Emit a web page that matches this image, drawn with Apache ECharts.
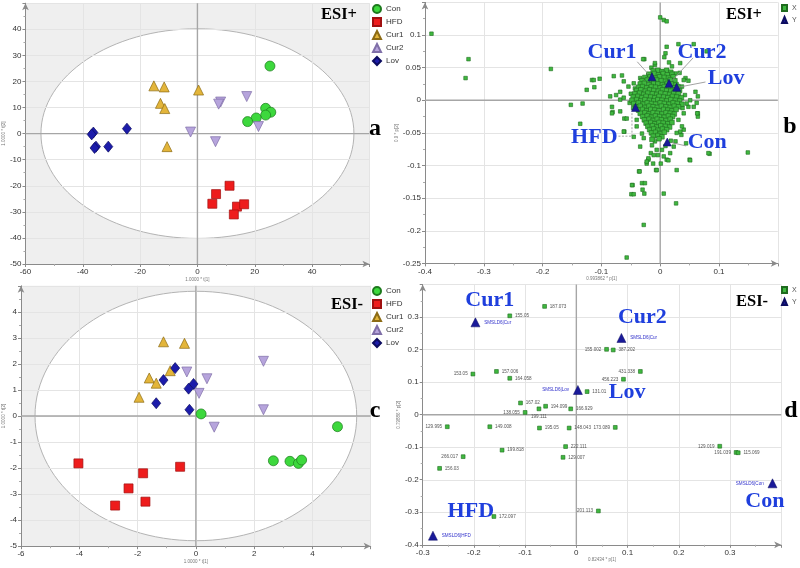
<!DOCTYPE html>
<html><head><meta charset="utf-8">
<script src="https://cdn.jsdelivr.net/npm/echarts@6/dist/echarts.min.js"></script>
<style>html,body{margin:0;padding:0;background:#fff}#c{width:800px;height:568px}</style>
</head><body><div id="c"></div><script>
// ---------- Panel a (ESI+ scores) ----------
const aCon  = [[25.3,25.9],[23.8,9.7],[25.6,8.2],[23.8,7.1],[20.5,6.0],[17.5,4.6]];
const aHFD  = [[11.2,-20.0],[6.5,-23.2],[5.2,-26.9],[13.8,-28.0],[16.3,-27.1],[12.7,-31.0]];
const aCur1 = [[-15.2,18.3],[-11.6,17.9],[0.4,16.7],[-12.9,11.6],[-11.4,9.6],[-10.6,-5.0]];
const aCur2 = [[17.2,14.2],[8.1,12.1],[7.4,11.3],[21.3,2.7],[-2.4,0.6],[6.3,-3.1]];
const aLov  = [[-36.3,0.4],[-36.9,-0.3],[-24.6,1.9],[-35.4,-5.0],[-35.9,-5.5],[-31.1,-5.0]];
const aEllipse = [54.6, 40.2];
// ---------- Panel c (ESI- scores) ----------
const cCon  = [[0.18,0.08],[4.86,-0.41],[2.66,-1.72],[3.23,-1.74],[3.52,-1.82],[3.63,-1.69]];
const cHFD  = [[-4.03,-1.82],[-0.54,-1.95],[-1.81,-2.20],[-2.31,-2.78],[-2.77,-3.44],[-1.73,-3.29]];
const cCur1 = [[-1.11,2.85],[-0.39,2.79],[-0.88,1.74],[-1.60,1.46],[-1.36,1.26],[-1.95,0.72]];
const cCur2 = [[2.32,2.10],[-0.31,1.69],[0.38,1.43],[0.11,0.87],[2.32,0.24],[0.63,-0.43]];
const cLov  = [[-0.71,1.84],[-1.11,1.38],[-0.08,1.23],[-0.25,1.05],[-1.36,0.49],[-0.22,0.24]];
const cEllipse = [5.52, 4.79];
// ---------- Panel b (ESI+ loadings) ----------
const bXOuter = [[-0.389,0.102],[-0.326,0.063],[-0.331,0.034],[-0.186,0.048],[-0.152,-0.007],[-0.132,-0.005],[-0.136,-0.036],[-0.125,0.016],[-0.116,0.031],[-0.103,0.033],[-0.112,0.020],[-0.082,-0.010],[-0.081,-0.018],[-0.079,0.037],[-0.065,0.038],[-0.075,0.008],[-0.068,0.001],[-0.061,-0.028],[-0.061,-0.048],[-0.045,-0.056],[-0.034,-0.071],[-0.036,-0.109],[-0.047,-0.130],[-0.049,-0.144],[-0.045,-0.144],[-0.031,-0.127],[-0.026,-0.127],[-0.030,-0.137],[-0.027,-0.143],[-0.028,-0.191],[-0.057,-0.241],[0.006,-0.143],[0.027,-0.158],[0.000,0.127],[0.006,0.123],[0.011,0.121],[0.011,0.082],[-0.027,0.063],[-0.009,0.054],[0.009,0.072],[0.031,0.086],[0.057,0.086],[0.079,0.075],[0.043,0.034],[0.048,0.030],[0.064,0.006],[0.064,-0.020],[0.064,-0.025],[0.057,-0.010],[0.084,-0.082],[0.149,-0.080],[0.050,-0.091],[0.040,-0.045],[0.036,-0.053],[0.044,-0.066],[0.028,-0.107],[-0.007,-0.107],[-0.020,-0.091],[-0.016,-0.081],[-0.012,-0.097],[-0.023,-0.097],[-0.006,-0.076],[0.017,-0.081],[0.011,-0.091]];
const bXHalo = [[-0.029,0.063],[-0.009,0.057],[0.007,0.066],[0.020,0.052],[0.034,0.057],[0.040,0.031],[0.060,0.013],[-0.113,0.031],[-0.062,0.029],[-0.054,0.021],[-0.068,0.013],[-0.085,0.006],[-0.062,0.004],[-0.045,0.026],[-0.034,0.034],[-0.020,0.039],[0.003,0.044],[0.026,0.041],[0.037,0.021],[0.051,0.000],[0.062,-0.004],[-0.082,-0.020],[-0.068,-0.017],[-0.057,-0.028],[-0.062,-0.048],[-0.031,-0.051],[-0.014,-0.069],[-0.009,-0.063],[-0.020,-0.089],[-0.023,-0.094],[-0.011,-0.084],[0.003,-0.076],[0.006,-0.086],[0.014,-0.092],[0.023,-0.071],[0.026,-0.063],[0.034,-0.048],[0.037,-0.040],[0.031,-0.030],[0.040,-0.020],[0.048,-0.010],[0.063,-0.020],[0.051,-0.092],[0.082,-0.081],[-0.006,-0.107],[-0.035,-0.109],[-0.048,-0.130],[-0.050,0.010],[-0.046,-0.012],[-0.052,-0.004],[-0.040,-0.030],[-0.043,0.018],[0.042,0.008],[0.045,-0.005],[0.038,-0.012],[0.033,0.042],[0.015,0.058],[-0.015,0.050],[-0.040,-0.040],[0.028,-0.050],[-0.028,-0.058],[0.018,-0.062],[0.009,-0.070],[-0.004,-0.084],[0.001,-0.097]];
const bXCore = [
 [-0.012,0.045],[-0.004,0.046],[0.003,0.044],[0.011,0.046],[0.018,0.043],
 [-0.019,0.040],[-0.010,0.041],[-0.003,0.039],[0.005,0.041],[0.012,0.039],[0.020,0.040],
 [-0.026,0.035],[-0.017,0.036],[-0.008,0.034],[-0.001,0.036],[0.007,0.035],[0.014,0.034],[0.022,0.036],
 [-0.031,0.030],[-0.022,0.031],[-0.014,0.029],[-0.006,0.031],[0.002,0.030],[0.009,0.029],[0.017,0.031],[0.025,0.030],
 [-0.034,0.025],[-0.027,0.026],[-0.019,0.024],[-0.011,0.026],[-0.004,0.025],[0.004,0.024],[0.012,0.026],[0.019,0.025],[0.027,0.024],
 [-0.037,0.020],[-0.030,0.021],[-0.023,0.019],[-0.015,0.021],[-0.008,0.020],[0.000,0.019],[0.007,0.021],[0.015,0.020],[0.022,0.019],[0.030,0.021],
 [-0.040,0.015],[-0.033,0.016],[-0.025,0.014],[-0.018,0.016],[-0.011,0.015],[-0.003,0.014],[0.004,0.016],[0.011,0.015],[0.018,0.014],[0.026,0.016],[0.033,0.015],
 [-0.043,0.010],[-0.035,0.011],[-0.028,0.009],[-0.021,0.011],[-0.013,0.010],[-0.006,0.009],[0.001,0.011],[0.009,0.010],[0.016,0.009],[0.023,0.011],[0.031,0.010],
 [-0.046,0.005],[-0.038,0.006],[-0.031,0.004],[-0.024,0.006],[-0.016,0.005],[-0.009,0.004],[-0.002,0.006],[0.006,0.005],[0.013,0.004],[0.021,0.006],[0.028,0.005],[0.036,0.004],
 [-0.048,0.000],[-0.040,0.001],[-0.033,-0.001],[-0.026,0.001],[-0.018,0.000],[-0.011,-0.001],[-0.004,0.001],[0.003,0.000],[0.011,-0.001],[0.018,0.001],[0.026,0.000],[0.033,-0.001],
 [-0.045,-0.005],[-0.037,-0.004],[-0.029,-0.006],[-0.022,-0.004],[-0.015,-0.005],[-0.008,-0.006],[0.000,-0.004],[0.007,-0.005],[0.015,-0.006],[0.022,-0.004],[0.029,-0.005],[0.037,-0.006],
 [-0.041,-0.010],[-0.034,-0.009],[-0.026,-0.011],[-0.019,-0.009],[-0.012,-0.010],[-0.005,-0.011],[0.002,-0.009],[0.010,-0.010],[0.017,-0.011],[0.024,-0.009],[0.031,-0.010],
 [-0.037,-0.015],[-0.030,-0.014],[-0.023,-0.016],[-0.016,-0.014],[-0.009,-0.015],[-0.002,-0.016],[0.006,-0.014],[0.013,-0.015],[0.020,-0.016],[0.027,-0.014],
 [-0.034,-0.020],[-0.026,-0.019],[-0.019,-0.021],[-0.012,-0.019],[-0.005,-0.020],[0.003,-0.021],[0.010,-0.019],[0.017,-0.020],[0.024,-0.021],
 [-0.030,-0.025],[-0.022,-0.024],[-0.015,-0.026],[-0.008,-0.024],[-0.001,-0.025],[0.007,-0.026],[0.014,-0.024],[0.021,-0.025],
 [-0.027,-0.030],[-0.019,-0.029],[-0.012,-0.031],[-0.005,-0.029],[0.002,-0.030],[0.010,-0.031],[0.017,-0.029],
 [-0.024,-0.035],[-0.016,-0.034],[-0.009,-0.036],[-0.002,-0.034],[0.005,-0.035],[0.013,-0.036],[0.020,-0.034],
 [-0.021,-0.040],[-0.013,-0.039],[-0.006,-0.041],[0.001,-0.039],[0.009,-0.040],[0.016,-0.041],
 [-0.018,-0.045],[-0.011,-0.044],[-0.004,-0.046],[0.004,-0.044],[0.011,-0.045],
 [-0.015,-0.050],[-0.008,-0.049],[0.000,-0.051],[0.007,-0.049],
 [-0.012,-0.055],[-0.004,-0.054],[0.003,-0.056],[-0.014,-0.060],[-0.002,-0.059]
];
const bY = [[-0.014,0.036],[0.015,0.026],[0.028,0.020],[-0.042,-0.011],[0.012,-0.064]];
const bLabelNames = ['Cur1','Cur2','Lov','HFD','Con'];
const bLabelPos = [[-0.082,0.074],[0.071,0.074],[0.112,0.034],[-0.112,-0.056],[0.080,-0.065]];
const bLeaders = [[-0.039,0.059,-0.020,0.040,0],[0.056,0.065,0.020,0.030,0],[0.077,0.028,0.031,0.020,0],[-0.071,-0.055,-0.048,-0.055,1],[-0.048,-0.055,-0.048,-0.018,1],[0.044,-0.070,0.020,-0.065,0]];
// ---------- Panel d (ESI- loadings) ----------
const dXLabels = ['187.073','155.05','155.002','387.202','153.05','157.006','164.058','431.338','456.223','131.01','167.02','194.099','166.929','138.055','199.111','129.995','149.008','195.05','148.043','173.089','222.111','129.019','191.039','115.069','199.818','266.017','129.007','156.03','172.097','201.113'];
const dXPoints = [[-0.062,0.333],[-0.130,0.304],[0.059,0.201],[0.072,0.199],[-0.202,0.125],[-0.156,0.133],[-0.130,0.112],[0.125,0.133],[0.092,0.109],[0.021,0.071],[-0.109,0.036],[-0.060,0.026],[-0.011,0.018],[-0.100,0.007],[-0.073,0.018],[-0.252,-0.037],[-0.169,-0.037],[-0.072,-0.041],[-0.014,-0.041],[0.076,-0.039],[-0.021,-0.098],[0.280,-0.097],[0.312,-0.116],[0.316,-0.117],[-0.145,-0.109],[-0.221,-0.129],[-0.026,-0.131],[-0.267,-0.165],[-0.161,-0.313],[0.043,-0.296]];
const dXLeftLabels = ['155.002','153.05','431.338','456.223','138.055','129.995','173.089','129.019','191.039','266.017','201.113'];
const dXBelowLabels = ['199.111'];
const dYLabels = ['SMSLD6|Cur','SMSLD6|Cur','SMSLD6|Lov','SMSLD6|HFD','SMSLD6|Con'];
const dY = [[-0.197,0.284],[0.088,0.236],[0.003,0.076],[-0.280,-0.372],[0.383,-0.211]];
const dYLeftLabels = ['SMSLD6|Lov','SMSLD6|Con'];
const dLabelNames = ['Cur1','Cur2','Lov','HFD','Con'];
const dLabelPos = [[-0.169,0.351],[0.129,0.300],[0.099,0.070],[-0.206,-0.296],[0.368,-0.265]];
const groupNames = ['Con','HFD','Cur1','Cur2','Lov'];

const FONT = '"Liberation Sans", Arial, sans-serif';
const AX = '#8a8a8a';
function axis(gi, min, max, interval, name, nameGap) {
  return {
    type: 'value', gridIndex: gi, min, max, interval,
    name, nameLocation: 'middle', nameGap,
    nameTextStyle: {fontSize: 4.5, color: '#777', fontFamily: FONT},
    axisLine: {show: true, onZero: false, symbol: ['none', 'arrow'], symbolSize: [5, 7], lineStyle: {color: AX, width: 1}},
    axisTick: {show: true, length: 3, lineStyle: {color: AX}},
    minorTick: {show: true, splitNumber: 2, length: 2, lineStyle: {color: '#aaa'}},
    axisLabel: {fontSize: 8, color: '#333', margin: 4, showMaxLabel: false, fontFamily: FONT},
    splitLine: {show: true, lineStyle: {color: '#e4e4e4', width: 1}}
  };
}
const grids = [
  {left: 25, top: 3.2, width: 344.4, height: 260.8},
  {left: 425, top: 2.4, width: 352.8, height: 261},
  {left: 20.7, top: 285.8, width: 350, height: 260.4},
  {left: 422.7, top: 284.6, width: 358.5, height: 260.2}
];
const xAxes = [
  axis(0, -60, 60, 20, '1.0000 * t[1]', 12),
  axis(1, -0.4, 0.2, 0.1, '0.993862 * p[1]', 12),
  axis(2, -6, 6, 2, '1.0000 * t[1]', 12),
  axis(3, -0.3, 0.4, 0.1, '0.82434 * p[1]', 12)
];
const yAxes = [
  axis(0, -50, 50, 10, '1.0000 * t[2]', 19),
  axis(1, -0.25, 0.15, 0.05, '0.9 * p[2]', 22),
  axis(2, -5, 5, 1, '1.0000 * t[2]', 15),
  axis(3, -0.4, 0.4, 0.1, '0.79886 * p[2]', 21)
];

function bgSeries(gi, ell) {
  return {
    type: 'custom', xAxisIndex: gi, yAxisIndex: gi, z: -1, silent: true, data: [[0, 0]],
    renderItem: (params, api) => {
      const cs = params.coordSys;
      const c = api.coord([0, 0]);
      const s = api.size([ell[0], ell[1]]);
      return {type: 'group', children: [
        {type: 'rect', shape: {x: cs.x, y: cs.y, width: cs.width, height: cs.height}, style: {fill: '#efefef'}},
        {type: 'ellipse', shape: {cx: c[0], cy: c[1], rx: s[0], ry: s[1]}, style: {fill: '#ffffff', stroke: '#b4b4b4', lineWidth: 1}}
      ]};
    }
  };
}
function zeroSeries(gi) {
  return {
    type: 'custom', xAxisIndex: gi, yAxisIndex: gi, z: 1, silent: true, data: [[0, 0]],
    renderItem: (params, api) => {
      const cs = params.coordSys;
      const c = api.coord([0, 0]);
      const st = {stroke: '#a6a6a6', lineWidth: 1.4};
      return {type: 'group', children: [
        {type: 'line', shape: {x1: cs.x, y1: c[1], x2: cs.x + cs.width, y2: c[1]}, style: st},
        {type: 'line', shape: {x1: c[0], y1: cs.y, x2: c[0], y2: cs.y + cs.height}, style: st}
      ]};
    }
  };
}
const groupStyle = {
  Con:  {symbol: 'circle', size: 10, color: '#3dd83d', border: '#1d7a1d', rot: 0},
  HFD:  {symbol: 'rect', size: 9, color: '#ee1c1c', border: '#a01010', rot: 0},
  Cur1: {symbol: 'triangle', size: 10, color: '#e3b53a', border: '#8c6b14', rot: 0},
  Cur2: {symbol: 'triangle', size: 10, color: '#b6a4dc', border: '#7f6fa8', rot: 180},
  Lov:  {symbol: 'diamond', size: [9, 11], color: '#1c1caa', border: '#0c0c60', rot: 0}
};
function groupSeries(gi, name, data) {
  const g = groupStyle[name];
  return {type: 'scatter', name, xAxisIndex: gi, yAxisIndex: gi, z: 3, data,
    symbol: g.symbol, symbolSize: g.size, symbolRotate: g.rot,
    itemStyle: {color: g.color, borderColor: g.border, borderWidth: 0.7, opacity: 1}};
}
function textSeries(gi, pos, names) {
  return {type: 'custom', xAxisIndex: gi, yAxisIndex: gi, z: 6, silent: true, clip: false,
    data: pos.map((p, i) => [p[0], p[1], i]),
    renderItem: (params, api) => {
      const c = api.coord([api.value(0), api.value(1)]);
      return {type: 'text', x: c[0], y: c[1], style: {text: names[api.value(2)], font: 'bold 22px "Liberation Serif", "Times New Roman", serif', fill: '#1f3fdd', align: 'center', verticalAlign: 'middle'}};
    }};
}
function leaderSeries(gi, lines) {
  return {type: 'custom', xAxisIndex: gi, yAxisIndex: gi, z: 4, silent: true, data: lines,
    renderItem: (params, api) => {
      const p1 = api.coord([api.value(0), api.value(1)]);
      const p2 = api.coord([api.value(2), api.value(3)]);
      return {type: 'line', shape: {x1: p1[0], y1: p1[1], x2: p2[0], y2: p2[1]},
        style: {stroke: '#8c8c8c', lineWidth: 0.8, lineDash: api.value(4) ? [2, 1.5] : null}};
    }};
}
const xStyle = {color: '#3fb83f', borderColor: '#1f6b1f', borderWidth: 0.6, opacity: 1};
const series = [
  bgSeries(0, aEllipse), zeroSeries(0),
  groupSeries(0, 'Con', aCon), groupSeries(0, 'HFD', aHFD), groupSeries(0, 'Cur1', aCur1), groupSeries(0, 'Cur2', aCur2), groupSeries(0, 'Lov', aLov),
  bgSeries(2, cEllipse), zeroSeries(2),
  groupSeries(2, 'Con', cCon), groupSeries(2, 'HFD', cHFD), groupSeries(2, 'Cur1', cCur1), groupSeries(2, 'Cur2', cCur2), groupSeries(2, 'Lov', cLov),
  zeroSeries(1),
  {type: 'scatter', name: 'X', xAxisIndex: 1, yAxisIndex: 1, z: 3, symbol: 'rect', symbolSize: 3.6,
   data: bXOuter.concat(bXHalo), itemStyle: xStyle},
  {type: 'scatter', name: 'X', xAxisIndex: 1, yAxisIndex: 1, z: 3, symbol: 'rect', symbolSize: 4.6,
   data: bXCore, itemStyle: xStyle},
  leaderSeries(1, bLeaders),
  {type: 'scatter', name: 'Y', xAxisIndex: 1, yAxisIndex: 1, z: 5, symbol: 'triangle', symbolSize: 8,
   data: bY, itemStyle: {color: '#1a1a99', borderColor: '#0d0d60', borderWidth: 0.5, opacity: 1}},
  textSeries(1, bLabelPos, bLabelNames),
  zeroSeries(3),
  {type: 'scatter', name: 'X', xAxisIndex: 3, yAxisIndex: 3, z: 3, symbol: 'rect', symbolSize: 3.8, itemStyle: xStyle,
   data: dXPoints.map((p, i) => ({value: p, name: dXLabels[i],
     label: {position: dXLeftLabels.includes(dXLabels[i]) ? 'left' : (dXBelowLabels.includes(dXLabels[i]) ? 'bottom' : 'right')}})),
   label: {show: true, formatter: '{b}', fontSize: 4.6, color: '#555', distance: 3, fontFamily: FONT}},
  {type: 'scatter', name: 'Y', xAxisIndex: 3, yAxisIndex: 3, z: 5, symbol: 'triangle', symbolSize: 9,
   itemStyle: {color: '#1a1a99', borderColor: '#0d0d60', borderWidth: 0.5, opacity: 1},
   data: dY.map((p, i) => ({value: p, name: dYLabels[i], label: {position: dYLeftLabels.includes(dYLabels[i]) ? 'left' : 'right'}})),
   label: {show: true, formatter: '{b}', fontSize: 4.6, color: '#3333cc', distance: 4, fontFamily: FONT}},
  textSeries(3, dLabelPos, dLabelNames)
];
function legend(left, top, data) {
  return {left, top, orient: 'vertical', itemWidth: 8, itemHeight: 8, itemGap: 3, selectedMode: false,
    padding: 0, textStyle: {fontSize: 8, color: '#333', fontFamily: FONT}, data};
}
function xyLegend(left, top) {
  return {left, top, orient: 'vertical', itemWidth: 5, itemHeight: 6, itemGap: 4, selectedMode: false,
    padding: 0, textStyle: {fontSize: 7, color: '#555', fontFamily: FONT}, data: ['X', 'Y']};
}
function label(x, y, text, size) {
  return {type: 'text', x, y, z: 10, style: {text, font: 'bold ' + size + 'px "Liberation Serif", "Times New Roman", serif', fill: '#000', align: 'center', verticalAlign: 'middle'}};
}
const chart = echarts.init(document.getElementById('c'), null, {renderer: 'canvas'});
chart.setOption({
  animation: false,
  grid: grids, xAxis: xAxes, yAxis: yAxes, series,
  legend: [legend(372, 4, groupNames), xyLegend(781, 4), legend(372, 286, groupNames), xyLegend(781, 286)],
  graphic: [
    label(339, 15, 'ESI+', 16.5), label(744, 15, 'ESI+', 16.5),
    label(347, 305, 'ESI-', 16.5), label(752, 302, 'ESI-', 16.5),
    label(375, 129, 'a', 24), label(790, 127, 'b', 24),
    label(375, 411, 'c', 24), label(791, 411, 'd', 24)
  ]
});
</script></body></html>
